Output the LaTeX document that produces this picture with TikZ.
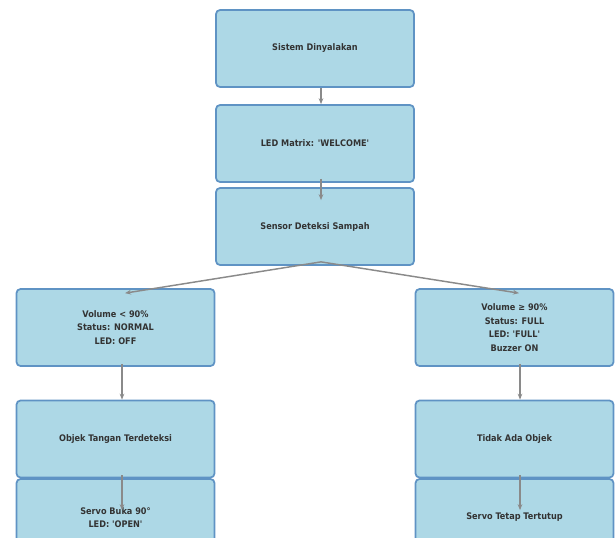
\documentclass[tikz,border=0pt]{standalone}
\usepackage{fontspec}
\newfontfamily\boxfont{DejaVu Sans Condensed}
\usetikzlibrary{arrows.meta,calc}
\definecolor{boxfill}{HTML}{ADD8E6}
\definecolor{boxline}{HTML}{5F93C4}
\definecolor{arrgray}{HTML}{8A8A8A}
\tikzset{
  stepbox/.style={draw=boxline, fill=boxfill, line width=1.3pt, rounded corners=3pt,
    minimum width=148.5pt, minimum height=57.75pt, inner sep=0pt, align=center,
    font=\boxfont\bfseries\fontsize{6.8}{10.2}\selectfont, text=black!80},
  arr/.style={draw=arrgray, line width=1.1pt, -{Stealth[length=4.5pt,width=3.5pt]}}
}
\begin{document}
\begin{tikzpicture}[x=0.75pt,y=-0.75pt]
\useasboundingbox (0,0) rectangle (616,537);
\clip (0,0) rectangle (616,537);
\node[stepbox] (b1) at (315,48.5) {Sistem Dinyalakan};
\node[stepbox] (b2) at (315,143.5) {LED Matrix: 'WELCOME'};
\node[stepbox] (b3) at (315,226.5) {Sensor Deteksi Sampah};
\node[stepbox] (l1) at (115.5,327.5) {Volume < 90\%\\Status: NORMAL\\LED: OFF};
\node[stepbox] (r1) at (514.5,327.5) {Volume ≥ 90\%\\Status: FULL\\LED: 'FULL'\\Buzzer ON};
\node[stepbox] (l2) at (115.5,439) {Objek Tangan Terdeteksi};
\node[stepbox] (r2) at (514.5,439) {Tidak Ada Objek};
\node[stepbox] (l3) at (115.5,517.5) {Servo Buka 90°\\LED: 'OPEN'};
\node[stepbox] (r3) at (514.5,517.5) {Servo Tetap Tertutup};
\draw[arr] ($(b1.south)+(6,0)$) -- ($(b2.north)+(6,0)$);
\draw[arr] ($(b2.south)+(6,-4)$) -- ($(b3.north)+(6,13)$);
\draw[arr] ($(b3.south)+(6,-4)$) -- ($(l1.north)+(9.5,5)$);
\draw[arr] ($(b3.south)+(6,-4)$) -- ($(r1.north)+(4.5,5)$);
\draw[arr] ($(l1.south)+(6.5,-3)$) -- ($(l2.north)+(6.5,0)$);
\draw[arr] ($(l2.south)+(6.5,-3)$) -- ($(l3.north)+(6.5,32)$);
\draw[arr] ($(r1.south)+(5.5,-3)$) -- ($(r2.north)+(5.5,0)$);
\draw[arr] ($(r2.south)+(5.5,-3)$) -- ($(r3.north)+(5.5,32)$);
\end{tikzpicture}
\end{document}
